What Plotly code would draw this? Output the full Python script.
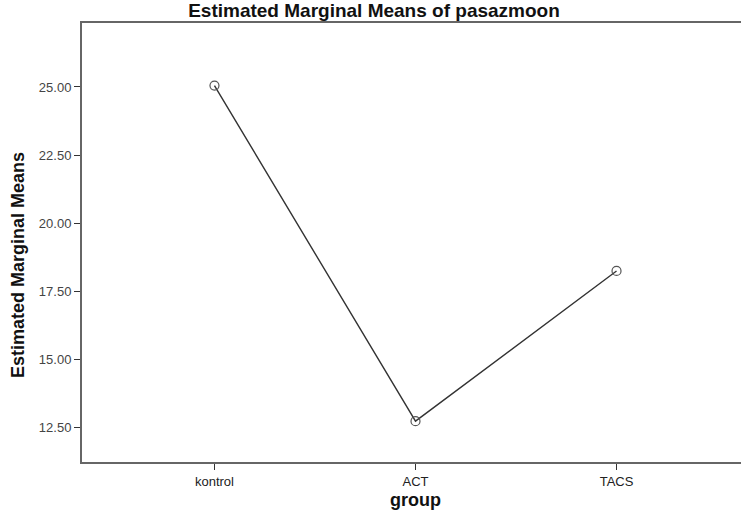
import plotly.graph_objects as go

groups = ["kontrol", "ACT", "TACS"]
means = [25.05, 12.72, 18.24]
y_tick_vals = [12.5, 15.0, 17.5, 20.0, 22.5, 25.0]
y_tick_text = ["12.50", "15.00", "17.50", "20.00", "22.50", "25.00"]

# figure is slightly wider than the window so the plot frame runs off the right edge, as in the reference
W, H = 750, 511
L, R, T, B = 82, 0, 23, 49
plot_w = W - L - R
plot_h = H - T - B

fig = go.Figure()
fig.add_trace(go.Scatter(
    x=[0, 1, 2], y=means, mode="lines+markers",
    line=dict(color="#333333", width=1.4),
    marker=dict(symbol="circle-open", size=9, color="#555555", line=dict(width=1.2)),
    showlegend=False,
))

fig.update_layout(
    width=W, height=H,
    margin=dict(l=L, r=R, t=T, b=B),
    paper_bgcolor="white", plot_bgcolor="white",
    font=dict(family="Liberation Sans, Arial, sans-serif", color="#222222"),
    title=dict(text="<b>Estimated Marginal Means of pasazmoon</b>", x=374 / W, xref="container",
               xanchor="center", y=1 - 10 / H, yref="container", yanchor="middle",
               font=dict(size=19, color="#111111")),
    annotations=[
        dict(text="<b>group</b>", x=1, xref="x", y=(H - B - 500) / plot_h, yref="paper",
             yanchor="middle", xanchor="center", showarrow=False,
             font=dict(size=18, color="#111111")),
        dict(text="<b>Estimated Marginal Means</b>", x=(18 - L) / plot_w, xref="paper",
             y=(H - B - 265) / plot_h, yref="paper", textangle=-90,
             xanchor="center", yanchor="middle",
             showarrow=False, font=dict(size=18, color="#111111")),
    ],
)

fig.update_xaxes(
    range=[-0.659, 2.664], tickvals=[0, 1, 2], ticktext=groups,
    showgrid=False, zeroline=False,
    showline=True, linecolor="#666666", linewidth=2, mirror=True,
    ticks="outside", ticklen=6, tickcolor="#333333", tickwidth=1,
    tickfont=dict(size=13, color="#222222"),
)
fig.update_yaxes(
    range=[11.22, 27.35], tickvals=y_tick_vals, ticktext=y_tick_text,
    showgrid=False, zeroline=False,
    showline=True, linecolor="#666666", linewidth=2,
    ticks="outside", ticklen=6, tickcolor="#333333", tickwidth=1,
    tickfont=dict(size=13, color="#444444"),
)

fig.write_html(
    "out.html",
    config={"displayModeBar": False},
    post_script="document.body.style.margin='0';document.body.style.overflow='hidden';",
)
